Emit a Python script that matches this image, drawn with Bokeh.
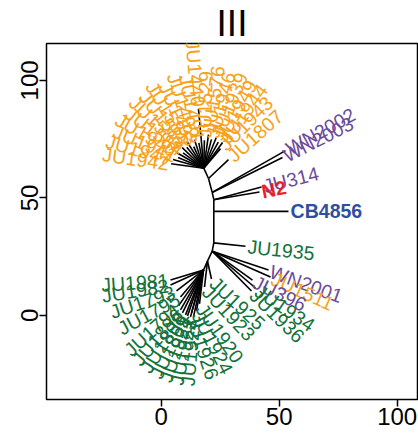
import math
from bokeh.plotting import figure
from bokeh.models import Range1d, FixedTicker, ColumnDataSource
from bokeh.core.properties import value
from bokeh.embed import file_html
from bokeh.resources import INLINE

# ---- internal nodes of the unrooted tree (data units) ----
node_id = ["O", "Na", "Nb", "Nc", "Nd", "Ne", "Nf", "Gr", "G"]
node_x = [18.05, 20.04, 21.61, 22.29, 22.29, 22.29, 21.61, 19.62, 17.92]
node_y = [62.63, 58.26, 52.33, 49.24, 44.28, 30.85, 27.33, 23.09, 19.28]
backbone_from = ["O", "Na", "Nb", "Nc", "Nd", "Ne", "Nf", "Gr"]
backbone_to = ["Na", "Nb", "Nc", "Nd", "Ne", "Nf", "Gr", "G"]

# ---- tips ----
tip_label = [
    # orange clade
    "JU1807", "JU1943", "JU1944", "JU1949", "JU1939", "JU1946", "JU1576", "JU1529",
    "JU1440", "JU1491", "JU1492", "JU1493", "JU1581", "JU1582", "JU1583", "JU1584",
    "JU1940", "JU1941", "JU1947", "JU1942",
    # right side singles
    "WN2002", "WN2003", "JU314", "N2", "CB4856", "JU1935",
    "WN2001", "JU1511", "JU396", "JU1934", "JU1936",
    # green clade
    "JU1925", "JU1923", "JU1920", "JU1924", "JU1926",
    "JU1981", "JU1982", "JU1793", "JU1795", "JU1794", "JU1896", "JU1808",
    "JU1809", "JU1921", "JU1922", "JU1927",
]
tip_group = (["orange"] * 20
             + ["purple", "purple", "purple", "red", "blue", "green",
                "purple", "orange", "purple", "green", "green"]
             + ["green"] * 16)
tip_parent = (["Na"] + ["O"] * 19
              + ["Nb", "Nb", "Nc", "Nc", "Nd", "Ne", "Nf", "Nf", "Nf", "Nf", "Nf"]
              + ["Gr", "Gr"] + ["G"] * 14)
tip_x = [
    28.52, 25.13, 26.0, 24.2, 23.3, 21.3, 20.05, 18.3,
    15.8, 15.95, 14.1, 13.75, 11.1, 10.85, 8.9, 9.26,
    6.67, 7.13, 5.0, 4.2,
    52.67, 51.40, 42.50, 41.65, 53.94, 35.72,
    45.47, 46.31, 38.69, 39.96, 38.26,
    21.31, 18.35, 16.23, 14.96, 12.84,
    3.94, 3.94, 6.48, 8.18, 7.33, 8.18, 9.03,
    10.30, 11.14, 12.42, 13.69,
]
tip_y = [
    66.31, 70.97, 73.6, 73.7, 75.6, 74.9, 76.9, 74.5,
    87.9, 73.4, 74.7, 71.8, 73.7, 71.5, 71.4, 69.2,
    69.2, 67.2, 66.3, 64.5,
    70.13, 67.16, 54.66, 52.54, 44.28, 29.45,
    19.28, 16.31, 15.04, 11.65, 10.38,
    15.47, 12.08, 4.87, 1.91, 1.06,
    15.04, 12.92, 10.38, 7.84, 4.03, 2.33, 1.06,
    0.21, -0.21, -0.64, -0.64,
]
tip_angle = [
    42, 45, 54, 61, 68, 75, 82, 89,
    95, 101, 108, 115, 122, 129, 136, 143,
    150, 157, 164, 172,
    29, 27, 14, 11, 0, -6,
    -20, -24, -26, -34, -44,
    -43, -47, -55, -63, -72,
    184, 189, 198, 208, 222, 230, 237,
    244, 251, 258, 265,
]

x_ticks = [0, 50, 100]
y_ticks = [0, 50, 100]
title_text = "III"

# ---- styles ----
group_color = {"orange": "#F7A21B", "green": "#13723A", "purple": "#6B4C9A",
               "red": "#E8212B", "blue": "#2D4F9E"}
bold_labels = {"N2", "CB4856"}
FONT = "Liberation Sans"

p = figure(width=418, height=434,
           x_range=Range1d(-48.6, 108.6), y_range=Range1d(-35.8, 115.7),
           output_backend="svg", toolbar_location=None,
           min_border_left=46, min_border_right=1,
           min_border_top=42, min_border_bottom=35)
p.title.text = title_text
p.title.align = "center"
p.title.text_font = FONT
p.title.text_font_size = "37px"
p.title.text_font_style = "normal"
p.title.text_color = "black"
p.title.standoff = 0
p.title.offset = 0

p.grid.visible = False
p.outline_line_color = "black"
p.outline_line_width = 1.5
p.outline_line_alpha = 1.0
p.background_fill_color = "white"
p.border_fill_color = "white"

for ax, ticks in ((p.xaxis[0], x_ticks), (p.yaxis[0], y_ticks)):
    ax.ticker = FixedTicker(ticks=ticks)
    ax.major_tick_out = 7
    ax.major_tick_in = 0
    ax.major_tick_line_width = 1.5
    ax.major_tick_line_color = "black"
    ax.minor_tick_line_color = None
    ax.axis_line_color = None
    ax.major_label_text_font = FONT
    ax.major_label_text_font_size = "24px"
    ax.major_label_text_color = "black"
    ax.major_label_standoff = 1
p.yaxis.major_label_orientation = "vertical"

# ---- branches ----
pos = {n: (x, y) for n, x, y in zip(node_id, node_x, node_y)}
x0, y0, x1, y1 = [], [], [], []
for a, b in zip(backbone_from, backbone_to):
    x0.append(pos[a][0]); y0.append(pos[a][1])
    x1.append(pos[b][0]); y1.append(pos[b][1])
for par, tx, ty in zip(tip_parent, tip_x, tip_y):
    x0.append(pos[par][0]); y0.append(pos[par][1])
    x1.append(tx); y1.append(ty)
p.segment(x0, y0, x1, y1, line_color="black", line_width=1.6)

# ---- tip labels ----
off = 0.9
for style_bold in (False, True):
    lx, ly, txt, ang, col, al = [], [], [], [], [], []
    for lab, grp, tx, ty, a in zip(tip_label, tip_group, tip_x, tip_y, tip_angle):
        if (lab in bold_labels) != style_bold:
            continue
        r = math.radians(a)
        lx.append(tx + off * math.cos(r))
        ly.append(ty + off * math.sin(r))
        txt.append(lab)
        col.append(group_color[grp])
        if 90 < a < 270:
            ang.append(math.radians(a - 180))
            al.append("right")
        else:
            ang.append(r)
            al.append("left")
    src = ColumnDataSource(dict(x=lx, y=ly, text=txt, angle=ang, color=col, align=al))
    p.text(x="x", y="y", text="text", angle="angle", source=src,
           text_color="color", text_align="align", text_baseline="middle",
           text_font=value(FONT), text_font_size=value("19.5px"),
           text_font_style="bold" if style_bold else "normal")

open("out.html", "w").write(file_html(p, INLINE))
